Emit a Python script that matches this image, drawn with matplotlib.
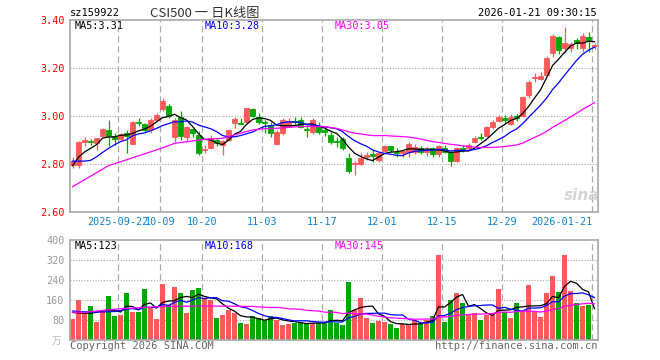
# CSI500 ETF daily K chart (sina style)

import numpy as np
import pandas as pd
import matplotlib
matplotlib.use("Agg")
import matplotlib.pyplot as plt

# ---- data ----
opens = [2.797, 2.796, 2.890, 2.896, 2.888, 2.917, 2.942, 2.915, 2.903, 2.930,
         2.885, 2.976, 2.968, 2.942, 2.983, 3.028, 3.042, 2.911, 2.997, 2.914,
         2.945, 2.921, 2.860, 2.868, 2.900, 2.880, 2.900, 2.970, 2.972, 2.976,
         3.029, 2.997, 2.975, 2.962, 2.884, 2.928, 2.960, 2.980, 2.985, 2.945,
         2.935, 2.958, 2.940, 2.921, 2.895, 2.905, 2.826, 2.800, 2.800, 2.830,
         2.840, 2.815, 2.853, 2.875, 2.852, 2.844, 2.848, 2.848, 2.866, 2.848,
         2.866, 2.842, 2.866, 2.852, 2.812, 2.868, 2.866, 2.890, 2.912, 2.916,
         2.955, 2.978, 2.992, 2.968, 2.998, 3.000, 3.088, 3.160, 3.155, 3.170,
         3.264, 3.328, 3.282, 3.284, 3.318, 3.283, 3.330, 3.290]
closes = [2.812, 2.893, 2.902, 2.890, 2.907, 2.946, 2.917, 2.905, 2.924, 2.915,
          2.976, 2.972, 2.940, 2.985, 3.005, 3.063, 2.998, 2.985, 2.915, 2.955,
          2.930, 2.847, 2.863, 2.910, 2.887, 2.896, 2.942, 2.987, 2.968, 3.032,
          2.998, 2.977, 2.972, 2.930, 2.935, 2.982, 2.978, 2.975, 2.955, 2.941,
          2.985, 2.935, 2.933, 2.892, 2.892, 2.865, 2.772, 2.805, 2.825, 2.838,
          2.832, 2.846, 2.875, 2.857, 2.846, 2.855, 2.883, 2.872, 2.848, 2.855,
          2.843, 2.876, 2.852, 2.814, 2.865, 2.862, 2.878, 2.910, 2.908, 2.955,
          2.977, 2.994, 2.985, 2.997, 2.993, 3.079, 3.142, 3.163, 3.168, 3.243,
          3.335, 3.274, 3.305, 3.302, 3.304, 3.334, 3.312, 3.295]
highs = [2.830, 2.895, 2.914, 2.905, 2.910, 2.950, 2.983, 2.928, 2.930, 2.940,
         2.978, 2.990, 2.972, 2.993, 3.013, 3.074, 3.048, 2.990, 3.022, 2.960,
         2.952, 2.938, 2.879, 2.922, 2.910, 2.900, 2.945, 2.995, 2.990, 3.035,
         3.032, 3.011, 2.983, 2.975, 2.940, 2.990, 2.990, 2.996, 2.995, 2.962,
         2.993, 2.975, 2.948, 2.935, 2.913, 2.912, 2.847, 2.812, 2.845, 2.850,
         2.858, 2.850, 2.880, 2.877, 2.865, 2.860, 2.890, 2.885, 2.875, 2.872,
         2.872, 2.880, 2.880, 2.855, 2.870, 2.880, 2.889, 2.915, 2.930, 2.960,
         2.985, 3.005, 3.005, 3.010, 3.007, 3.082, 3.150, 3.180, 3.185, 3.250,
         3.340, 3.332, 3.372, 3.310, 3.326, 3.345, 3.352, 3.305]
lows = [2.782, 2.782, 2.875, 2.880, 2.858, 2.912, 2.877, 2.880, 2.895, 2.847,
        2.882, 2.958, 2.932, 2.930, 2.980, 3.020, 2.990, 2.893, 2.900, 2.895,
        2.912, 2.838, 2.847, 2.865, 2.875, 2.838, 2.897, 2.950, 2.965, 2.972,
        2.995, 2.968, 2.930, 2.912, 2.880, 2.920, 2.955, 2.957, 2.950, 2.911,
        2.925, 2.925, 2.918, 2.884, 2.870, 2.860, 2.762, 2.755, 2.797, 2.815,
        2.810, 2.810, 2.850, 2.850, 2.830, 2.830, 2.828, 2.840, 2.840, 2.832,
        2.830, 2.828, 2.845, 2.792, 2.808, 2.850, 2.856, 2.886, 2.900, 2.912,
        2.945, 2.975, 2.965, 2.962, 2.980, 2.997, 3.076, 3.140, 3.150, 3.165,
        3.246, 3.258, 3.262, 3.268, 3.280, 3.268, 3.266, 3.280]
volumes = [84, 160, 103, 136, 71, 116, 176, 96, 100, 188,
           111, 111, 204, 127, 84, 224, 140, 212, 188, 108,
           200, 208, 167, 160, 88, 100, 120, 109, 69, 64,
           96, 87, 80, 96, 80, 60, 64, 69, 73, 63,
           67, 69, 69, 120, 69, 60, 232, 120, 169, 89,
           68, 76, 71, 64, 49, 63, 63, 79, 69, 81,
           96, 340, 73, 160, 189, 148, 104, 108, 81, 100,
           100, 204, 111, 89, 148, 111, 221, 113, 93, 188,
           257, 193, 340, 196, 148, 137, 141, 4]

date_idx = [8, 15, 22, 32, 42, 52, 62, 72, 87]
date_labels = ["2025-09-22", "10-09", "10-20", "11-03", "11-17",
               "12-01", "12-15", "12-29", "2026-01-21"]

# moving averages need days before the window: first points
ma5_head = [2.793, 2.828, 2.850, 2.865]
ma10_head = [2.812, 2.812, 2.812, 2.815, 2.830, 2.848, 2.865, 2.880, 2.893]
ma30_head_idx = [0, 6, 15, 17, 22, 25]
ma30_head = [2.705, 2.793, 2.867, 2.886, 2.903, 2.907]

vma5_head = [110, 108, 107, 107]
vma10_head = [116, 114, 113, 112, 112, 112, 113, 114, 118]
vma30_head_idx = [0, 2, 5, 7, 10, 15, 21, 28]
vma30_head = [111, 111, 118, 123, 128, 134, 136, 135]

RED = "#ff5858"
GREEN = "#00a800"
GRID = "#a8a8a8"
MONO = "DejaVu Sans Mono"
CJK = ["Noto Sans CJK SC", "DejaVu Sans"]

W, H = 660, 360


def fx(px):
    return px / W


def fy(py):
    return 1 - py / H


def moving(values, win, head, head_idx=None):
    s = pd.Series(values, dtype=float).rolling(win).mean().values
    if head_idx is None:
        xs = list(range(len(values)))
        ys = list(head) + list(s[len(head):])
    else:
        xs = list(head_idx) + list(range(win - 1, len(values)))
        ys = list(head) + list(s[win - 1:])
    return xs, ys


fig = plt.figure(figsize=(W / 100, H / 100), dpi=100)
ax = fig.add_axes([fx(70), fy(212), fx(528), 192 / H])
axv = fig.add_axes([fx(70), fy(340), fx(528), 100 / H])

n = len(closes)
x = np.arange(n)
o = np.array(opens)
c = np.array(closes)
colors = np.where(c >= o, RED, GREEN)

# candles
ax.vlines(x, lows, highs, colors=colors, lw=0.9, zorder=2)
ax.bar(x, c - o, bottom=o, width=0.8, color=colors, edgecolor=colors,
       linewidth=0.6, zorder=2)

for (xs, ys), col in [(moving(closes, 5, ma5_head), "black"),
                      (moving(closes, 10, ma10_head), "#0000ff"),
                      (moving(closes, 30, ma30_head, ma30_head_idx), "#ff00ff")]:
    ax.plot(xs, ys, color=col, lw=0.9, zorder=3)

# volume
axv.bar(x, volumes, width=0.85, color=colors, linewidth=0, zorder=2)
for (xs, ys), col in [(moving(volumes, 5, vma5_head), "black"),
                      (moving(volumes, 10, vma10_head), "#0000ff"),
                      (moving(volumes, 30, vma30_head, vma30_head_idx), "#ff00ff")]:
    axv.plot(xs, ys, color=col, lw=0.9, zorder=3)

# axes styling
for a in (ax, axv):
    a.set_xlim(-0.42, 87.58)
    a.set_xticks([])
    for sp in a.spines.values():
        sp.set_color(GRID)
        sp.set_linewidth(1.2)
    for d in date_idx:
        a.axvline(d - 0.42, color=GRID, lw=0.9, ls=(0, (5, 3)), zorder=0)
    a.tick_params(axis="y", length=0, pad=4)

ax.set_ylim(2.60, 3.40)
price_ticks = [2.60, 2.80, 3.00, 3.20, 3.40]
ax.set_yticks(price_ticks)
ax.set_yticklabels(["%.2f" % t for t in price_ticks], color="red",
                   family=MONO, fontsize=7.3)
for t in price_ticks[1:-1]:
    ax.axhline(t, color=GRID, lw=0.8, ls=(0, (1, 1.5)), zorder=0)

axv.set_ylim(0, 400)
vol_ticks = [80, 160, 240, 320, 400]
axv.set_yticks(vol_ticks)
axv.set_yticklabels([str(t) for t in vol_ticks], color="#999999",
                    family=MONO, fontsize=7.3)
for t in vol_ticks[:-1]:
    axv.axhline(t, color=GRID, lw=0.8, ls=(0, (1, 1.5)), zorder=0)

# date labels
for d, lab in zip(date_idx, date_labels):
    ha = "right" if d == date_idx[-1] else "center"
    ax.text(d - 0.42, -10 / 192, lab, transform=ax.get_xaxis_transform(),
            ha=ha, va="center", color="#0a82d2", family=MONO, fontsize=7.3)

# header texts
fig.text(fx(70), fy(13), "sz159922", ha="left", va="center",
         family=MONO, fontsize=7.5, color="black")
fig.text(fx(150), fy(13), "CSI500 一 日K线图", ha="left", va="center",
         family=CJK, fontsize=9.5, color="#333333")
fig.text(fx(597), fy(13), "2026-01-21 09:30:15", ha="right", va="center",
         family=MONO, fontsize=7.5, color="black")

for py, labels in [(26, ["MA5:3.31", "MA10:3.28", "MA30:3.05"]),
                   (246, ["MA5:123", "MA10:168", "MA30:145"])]:
    for px, lab, col in zip([75, 205, 335], labels, ["black", "#0000ff", "#ff00ff"]):
        fig.text(fx(px), fy(py), lab, ha="left", va="center",
                 family=MONO, fontsize=7.3, color=col)

fig.text(fx(57), fy(341), "万", ha="center", va="center",
         family=CJK, fontsize=7, color="#bbbbbb")
fig.text(fx(70), fy(346), "Copyright 2026 SINA.COM", ha="left", va="center",
         family=MONO, fontsize=7.5, color="#666666")
fig.text(fx(597), fy(346), "http://finance.sina.com.cn", ha="right", va="center",
         family=MONO, fontsize=7.5, color="#666666")

# watermark
fig.text(fx(582), fy(195), "sina", ha="center", va="center", fontsize=11,
         fontweight="bold", style="italic", color="#d4d4d4")

fig.savefig("out.png", dpi=100)
